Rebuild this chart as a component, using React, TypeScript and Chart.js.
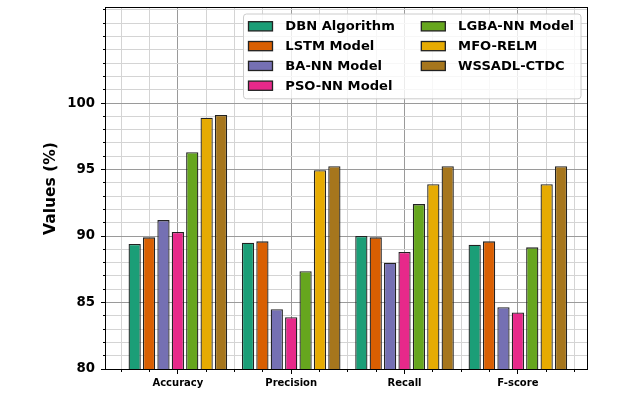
import React, { useEffect, useRef } from 'react';
import { Chart, registerables } from 'chart.js';

Chart.register(...registerables);

// ---- data ----
const CATEGORIES = ['Accuracy', 'Precision', 'Recall', 'F-score'];
const SERIES_NAMES = ['DBN Algorithm', 'LSTM Model', 'BA-NN Model', 'PSO-NN Model', 'LGBA-NN Model', 'MFO-RELM', 'WSSADL-CTDC'];
const DBN_ALGORITHM = [89.4, 89.5, 90.0, 89.35];
const LSTM_MODEL = [89.9, 89.6, 89.9, 89.6];
const BA_NN_MODEL = [91.2, 84.5, 88.0, 84.65];
const PSO_NN_MODEL = [90.3, 83.9, 88.8, 84.25];
const LGBA_NN_MODEL = [96.3, 87.35, 92.4, 89.15];
const MFO_RELM = [98.9, 94.95, 93.9, 93.9];
const WSSADL_CTDC = [99.1, 95.25, 95.25, 95.25];
const Y_TICKS = [80, 85, 90, 95, 100];

// ---- styles ----
const COLORS = ['#1b9e77', '#d95f02', '#7570b3', '#e7298a', '#66a61e', '#e6ab02', '#a6761d'];
const EDGE = '#222222';
const MAJOR_GRID = '#9a9a9a';
const MINOR_GRID = '#d4d4d4';
const Y_MIN = 80;
const Y_MAX = 107.15;
const X_MIN = -0.634;
const X_MAX = 3.61;
const FONT = "'DejaVu Sans', sans-serif";

const framePlugin = {
  id: 'frame',
  afterDatasetsDraw(chart: any) {
    const { ctx, chartArea: a } = chart;
    ctx.save();
    ctx.strokeStyle = '#000000';
    ctx.lineWidth = 1;
    ctx.strokeRect(a.left - 0.5, a.top - 0.5, a.right - a.left + 1, a.bottom - a.top + 1);
    ctx.restore();
  },
};

const legendPlugin = {
  id: 'innerLegend',
  afterDraw(chart: any) {
    const { ctx, chartArea } = chart;
    const fs = 13.1;
    const items = chart.data.datasets.map((d: any) => ({
      text: d.label as string,
      fill: d.backgroundColor as string,
      stroke: d.borderColor as string,
    }));
    const nRows = Math.ceil(items.length / 2);
    const cols = [items.slice(0, nRows), items.slice(nRows)];
    ctx.save();
    ctx.font = `bold ${fs}px ${FONT}`;
    const handleW = 24;
    const handleH = 9.2;
    const textPad = 12.8;
    const colSpace = 26.5;
    const padL = 5;
    const padR = 7;
    const padV = 5.5;
    const rowH = 14.4;
    const rowPitch = 19.8;
    const axesPad = 6;
    const textWidths = cols.map((c: any[]) => Math.max(...c.map((it) => ctx.measureText(it.text).width)));
    const colWidths = textWidths.map((w: number) => handleW + textPad + w);
    const boxW = padL + colWidths[0] + colSpace + colWidths[1] + padR;
    const boxH = 2 * padV + (nRows - 1) * rowPitch + rowH;
    const right = chartArea.right - axesPad;
    const top = chartArea.top + axesPad;
    const left = right - boxW;

    ctx.beginPath();
    if ((ctx as any).roundRect) (ctx as any).roundRect(left, top, boxW, boxH, 3);
    else ctx.rect(left, top, boxW, boxH);
    ctx.fillStyle = 'rgba(255,255,255,0.8)';
    ctx.fill();
    ctx.strokeStyle = '#cccccc';
    ctx.lineWidth = 1;
    ctx.stroke();

    let x = left + padL;
    cols.forEach((c: any[], ci: number) => {
      c.forEach((it, ri) => {
        const cy = top + padV + 6.8 + ri * rowPitch;
        ctx.fillStyle = it.fill;
        ctx.fillRect(x, cy - handleH / 2, handleW, handleH);
        ctx.strokeStyle = it.stroke;
        ctx.lineWidth = 1.3;
        ctx.strokeRect(x, cy - handleH / 2, handleW, handleH);
        ctx.fillStyle = '#000000';
        ctx.textAlign = 'left';
        ctx.textBaseline = 'middle';
        ctx.fillText(it.text, x + handleW + textPad, cy + 0.5);
      });
      x += colWidths[ci] + colSpace;
    });
    ctx.restore();
  },
};

export default function App() {
  const ref = useRef<HTMLCanvasElement>(null);

  useEffect(() => {
    const canvas = ref.current;
    if (!canvas) return;
    Chart.defaults.font.family = FONT;
    const seriesValues = [DBN_ALGORITHM, LSTM_MODEL, BA_NN_MODEL, PSO_NN_MODEL, LGBA_NN_MODEL, MFO_RELM, WSSADL_CTDC];

    const chart = new Chart(canvas, {
      type: 'bar',
      data: {
        datasets: seriesValues.map((vals, s) => ({
          label: SERIES_NAMES[s],
          data: vals.map((v, i) => ({ x: i, y: v })),
          backgroundColor: COLORS[s],
          borderColor: EDGE,
          borderWidth: 1.3,
          borderSkipped: false,
          categoryPercentage: 0.889,
          barPercentage: 0.85,
          xAxisID: 'x',
          yAxisID: 'y',
        })),
      },
      options: {
        responsive: false,
        animation: false,
        events: [],
        layout: { padding: { left: 0, right: 30, top: 8, bottom: 0 } },
        plugins: { legend: { display: false }, tooltip: { enabled: false } },
        scales: {
          x: {
            type: 'linear',
            position: 'bottom',
            min: X_MIN,
            max: X_MAX,
            offset: false,
            weight: 0,
            grid: { offset: false, color: MAJOR_GRID, lineWidth: 1, drawTicks: true, tickLength: 5, tickColor: '#000000', tickWidth: 1 },
            border: { display: false },
            ticks: {
              includeBounds: false,
              stepSize: 1,
              padding: 3,
              color: '#000000',
              font: { size: 10, weight: 'bold' },
              maxRotation: 0,
              autoSkip: false,
              callback: (v: any) => CATEGORIES[v] ?? '',
            },
            afterBuildTicks: (s: any) => {
              s.ticks = CATEGORIES.map((_, i) => ({ value: i }));
            },
            afterFit: (s: any) => {
              s.height = 26;
              s.paddingLeft = 0;
              s.paddingRight = 0;
            },
          } as any,
          xMinor: {
            type: 'linear',
            position: 'bottom',
            min: X_MIN,
            max: X_MAX,
            offset: false,
            weight: -1,
            grid: { offset: false, color: MINOR_GRID, lineWidth: 1, drawTicks: true, tickLength: 3, tickColor: '#000000', tickWidth: 1 },
            border: { display: false },
            ticks: { display: false, includeBounds: false, stepSize: 0.25 },
            afterBuildTicks: (s: any) => {
              s.ticks = s.ticks.filter((t: any) => !Number.isInteger(Math.round(t.value * 1000) / 1000));
            },
            afterFit: (s: any) => {
              s.height = 0;
              s.paddingLeft = 0;
              s.paddingRight = 0;
            },
          } as any,
          y: {
            type: 'linear',
            position: 'left',
            min: Y_MIN,
            max: Y_MAX,
            weight: 0,
            grid: { color: MAJOR_GRID, lineWidth: 1, drawTicks: true, tickLength: 5, tickColor: '#000000', tickWidth: 1 },
            border: { display: false },
            ticks: {
              includeBounds: false,
              padding: 6,
              color: '#000000',
              font: { size: 13.3, weight: 'bold' },
              callback: (v: any) => String(v),
            },
            afterBuildTicks: (s: any) => {
              s.ticks = Y_TICKS.map((v) => ({ value: v }));
            },
            title: {
              display: true,
              text: 'Values (%)',
              color: '#000000',
              font: { size: 15.5, weight: 'bold' },
              padding: { top: 42, bottom: 0 },
            },
            afterFit: (s: any) => {
              s.width = 106;
              s.paddingTop = 0;
              s.paddingBottom = 0;
            },
          } as any,
          yMinor: {
            type: 'linear',
            position: 'left',
            min: Y_MIN,
            max: Y_MAX,
            weight: -1,
            grid: { color: MINOR_GRID, lineWidth: 1, drawTicks: true, tickLength: 3, tickColor: '#000000', tickWidth: 1 },
            border: { display: false },
            ticks: { display: false, includeBounds: false, stepSize: 1 },
            afterBuildTicks: (s: any) => {
              s.ticks = s.ticks.filter((t: any) => !Y_TICKS.includes(Math.round(t.value * 1000) / 1000));
            },
            afterFit: (s: any) => {
              s.width = 0;
              s.paddingTop = 0;
              s.paddingBottom = 0;
            },
          } as any,
        },
      } as any,
      plugins: [framePlugin, legendPlugin],
    });

    return () => chart.destroy();
  }, []);

  return (
    <div style={{ position: 'fixed', left: 0, top: 0, width: 617, height: 395, background: '#ffffff' }}>
      <canvas ref={ref} width={617} height={395} style={{ display: 'block' }} />
    </div>
  );
}
